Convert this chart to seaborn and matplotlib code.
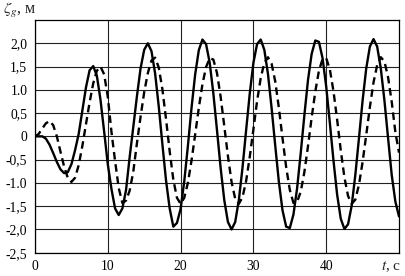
import numpy as np
import pandas as pd
import matplotlib
matplotlib.use("Agg")
import matplotlib.pyplot as plt
from matplotlib.ticker import FixedLocator, FixedFormatter
import seaborn as sns

# time samples, s
t = [i * 0.5 for i in range(101)]

# solid curve, m (at 0.5 s steps)
zeta_solid = [
    0.00, 0.00, 0.00, -0.05, -0.18, -0.36, -0.55, -0.71, -0.79, -0.77,
    -0.60, -0.30, 0.05, 0.55, 1.05, 1.42, 1.51, 1.30, 0.78, 0.10,
    -0.60, -1.13, -1.55, -1.69, -1.55, -1.16, -0.45, 0.20, 0.86, 1.46,
    1.86, 2.00, 1.83, 1.35, 0.64, -0.17, -0.95, -1.55, -1.94, -1.86,
    -1.56, -0.97, -0.21, 0.61, 1.33, 1.85, 2.08, 1.98, 1.58, 0.92,
    0.13, -0.68, -1.37, -1.84, -2.00, -1.84, -1.37, -0.68, 0.13, 0.92,
    1.58, 1.98, 2.08, 1.86, 1.34, 0.61, -0.20, -0.98, -1.59, -1.94,
    -1.97, -1.68, -1.12, -0.36, 0.45, 1.21, 1.77, 2.06, 2.03, 1.68,
    1.07, 0.29, -0.52, -1.25, -1.77, -1.99, -1.89, -1.49, -0.83, -0.04,
    0.77, 1.46, 1.93, 2.09, 1.93, 1.46, 0.77, -0.04, -0.83, -1.40,
    -1.72,
]

# dashed curve, m
zeta_dashed = [
    0.00, 0.05, 0.17, 0.28, 0.33, 0.24, 0.00, -0.33, -0.65, -0.89,
    -0.98, -0.89, -0.62, -0.21, 0.26, 0.73, 1.14, 1.41, 1.50, 1.33,
    0.85, 0.10, -0.53, -1.11, -1.43, -1.38, -1.17, -0.76, -0.15, 0.42,
    0.95, 1.36, 1.63, 1.69, 1.48, 1.01, 0.37, -0.32, -0.93, -1.32,
    -1.45, -1.32, -1.00, -0.52, 0.04, 0.61, 1.12, 1.49, 1.68, 1.65,
    1.36, 0.85, 0.22, -0.42, -0.98, -1.34, -1.45, -1.31, -0.96, -0.44,
    0.15, 0.75, 1.25, 1.58, 1.70, 1.56, 1.18, 0.61, -0.04, -0.66,
    -1.15, -1.43, -1.41, -1.19, -0.77, -0.21, 0.40, 0.96, 1.41, 1.66,
    1.68, 1.44, 0.97, 0.36, -0.30, -0.88, -1.28, -1.45, -1.36, -1.04,
    -0.55, 0.03, 0.63, 1.16, 1.53, 1.70, 1.61, 1.27, 0.74, 0.09,
    -0.35,
]

y_ticks = [-2.5, -2.0, -1.5, -1.0, -0.5, 0.0, 0.5, 1.0, 1.5, 2.0]
y_tick_labels = ["-2,5", "-2,0", "-1,5", "-1.0", "-0,5", "0", "0,5", "1.0", "1,5", "2,0"]
x_ticks = [0, 10, 20, 30, 40]
x_tick_labels = ["0", "10", "20", "30", "40"]

df = pd.DataFrame({"t": t, "solid": zeta_solid, "dashed": zeta_dashed})

sns.set_theme(style="white")
plt.rcParams["font.family"] = ["Liberation Serif", "DejaVu Serif"]
plt.rcParams["mathtext.fontset"] = "stix"

fig = plt.figure(figsize=(4.05, 2.76), dpi=100)
ax = fig.add_axes([35 / 405, 1 - 252.7 / 276, (399 - 35) / 405, (252.7 - 20) / 276])

sns.lineplot(data=df, x="t", y="solid", ax=ax, color="black", linewidth=1.7, zorder=3)
sns.lineplot(data=df, x="t", y="dashed", ax=ax, color="black", linewidth=1.7, zorder=3)
ax.lines[1].set_dashes([3.2, 2.0])

ax.set_xlim(0, 50)
ax.set_ylim(-2.5, 2.5)
ax.xaxis.set_major_locator(FixedLocator(x_ticks))
ax.xaxis.set_major_formatter(FixedFormatter(x_tick_labels))
ax.yaxis.set_major_locator(FixedLocator(y_ticks))
ax.yaxis.set_major_formatter(FixedFormatter(y_tick_labels))
ax.tick_params(axis="both", length=0, labelsize=9.8, colors="black")
ax.tick_params(axis="y", pad=5.5)
ax.tick_params(axis="x", pad=5.5)

ax.grid(True, color="#222222", linewidth=0.8)
for s in ax.spines.values():
    s.set_visible(True)
    s.set_color("black")
    s.set_linewidth(0.9)

ax.set_xlabel("")
ax.set_ylabel("")
fig.text(3 / 405, 1 - 14 / 276, r"$\zeta_g$, м", fontsize=11.5, ha="left", va="baseline")
fig.text(401 / 405, 1 - 270 / 276, r"$t$, с", fontsize=11, ha="right", va="baseline")

fig.savefig("out.png", dpi=100)
